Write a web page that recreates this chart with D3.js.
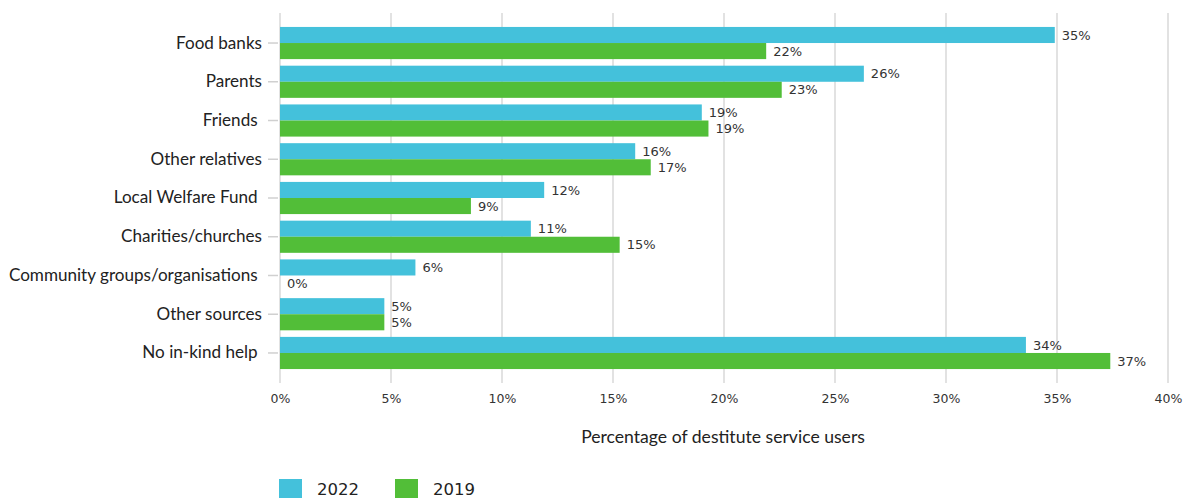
<!DOCTYPE html>
<html>
<head>
<meta charset="utf-8">
<script src="https://cdn.jsdelivr.net/npm/d3@7"></script>
<style>
  html, body { margin: 0; padding: 0; background: #fff; }
  svg { display: block; }
  .cat { white-space: pre; }
</style>
</head>
<body>
<svg id="chart" width="1185" height="498"></svg>
<script>
// Sources of in-kind help, share of destitute service users (%)
const categories = [
  "Food banks",
  "Parents",
  "Friends ",
  "Other relatives",
  "Local Welfare Fund ",
  "Charities/churches",
  "Community groups/organisations ",
  "Other sources",
  "No in-kind help "
];
const seriesNames = ["2022", "2019"];
const values2022 = [34.9, 26.3, 19.0, 16.0, 11.9, 11.3, 6.1, 4.7, 33.6];
const values2019 = [21.9, 22.6, 19.3, 16.7, 8.6, 15.3, 0, 4.7, 37.4];
const xTicks = [0, 5, 10, 15, 20, 25, 30, 35, 40];
const axisTitle = "Percentage of destitute service users";
const colors = ["#44C1DB", "#52BE38"];

const svg = d3.select("#chart");
const plotTop = 13, plotBottom = 383, plotLeft = 280, plotRight = 1168;

const x = d3.scaleLinear().domain([0, 40]).range([plotLeft, plotRight]);
const y = d3.scaleBand().domain(categories).range([plotTop, plotBottom])
  .paddingInner(0.17).paddingOuter(0.36);
const ySub = d3.scaleBand().domain(seriesNames).range([0, y.bandwidth()]);

const pct = v => d3.format(".0f")(v) + "%";

// vertical grid lines
svg.append("g")
  .selectAll("line")
  .data(xTicks)
  .join("line")
  .attr("x1", d => x(d)).attr("x2", d => x(d))
  .attr("y1", plotTop).attr("y2", plotBottom)
  .attr("stroke", "#d9d9d9").attr("stroke-width", 1.5);

// x tick labels
const xAxis = d3.axisBottom(x).tickValues(xTicks).tickSize(0).tickPadding(0)
  .tickFormat(d => d + "%");
const gx = svg.append("g").attr("transform", `translate(0,${plotBottom + 16})`).call(xAxis);
gx.select(".domain").remove();
gx.selectAll("text")
  .attr("dy", "0.35em")
  .attr("font-family", "DejaVu Sans")
  .attr("font-size", 12.5)
  .attr("fill", "#333");

// y axis with category labels
const yAxis = d3.axisLeft(y).tickSize(10).tickPadding(6);
const gy = svg.append("g").attr("transform", `translate(${plotLeft - 2},0)`).call(yAxis);
gy.select(".domain").remove();
gy.selectAll(".tick line").attr("stroke", "#d0d0d0").attr("stroke-width", 1.5);
gy.selectAll(".tick text")
  .attr("class", "cat")
  .attr("font-family", "Lato")
  .attr("font-size", 17.1)
  .attr("fill", "#222");

// bars
const rows = categories.map((c, i) => ({
  cat: c,
  vals: [
    { key: seriesNames[0], v: values2022[i] },
    { key: seriesNames[1], v: values2019[i] }
  ]
}));

const groups = svg.append("g").selectAll("g")
  .data(rows)
  .join("g")
  .attr("transform", d => `translate(0,${y(d.cat)})`);

groups.selectAll("rect")
  .data(d => d.vals)
  .join("rect")
  .attr("x", x(0))
  .attr("y", d => ySub(d.key))
  .attr("width", d => x(d.v) - x(0))
  .attr("height", ySub.bandwidth())
  .attr("fill", (d, i) => colors[i]);

groups.selectAll("text")
  .data(d => d.vals)
  .join("text")
  .attr("x", d => x(d.v) + 7)
  .attr("y", d => ySub(d.key) + ySub.bandwidth() / 2)
  .attr("dy", "0.36em")
  .attr("font-family", "DejaVu Sans")
  .attr("font-size", 13)
  .attr("fill", "#333")
  .text(d => pct(d.v));

// axis title
svg.append("text")
  .attr("x", x(20) - 1)
  .attr("y", 437)
  .attr("dy", "0.35em")
  .attr("text-anchor", "middle")
  .attr("font-family", "Lato")
  .attr("font-size", 17.6)
  .attr("fill", "#222")
  .text(axisTitle);

// legend
const legend = svg.append("g").attr("transform", "translate(279,479)");
const legendX = [0, 116];
seriesNames.forEach((name, i) => {
  const g = legend.append("g").attr("transform", `translate(${legendX[i]},0)`);
  g.append("rect").attr("width", 23).attr("height", 20).attr("fill", colors[i]);
  g.append("text")
    .attr("x", 38).attr("y", 10)
    .attr("dy", "0.36em")
    .attr("font-family", "DejaVu Sans")
    .attr("font-size", 16.5)
    .attr("fill", "#222")
    .text(name);
});
</script>
</body>
</html>
